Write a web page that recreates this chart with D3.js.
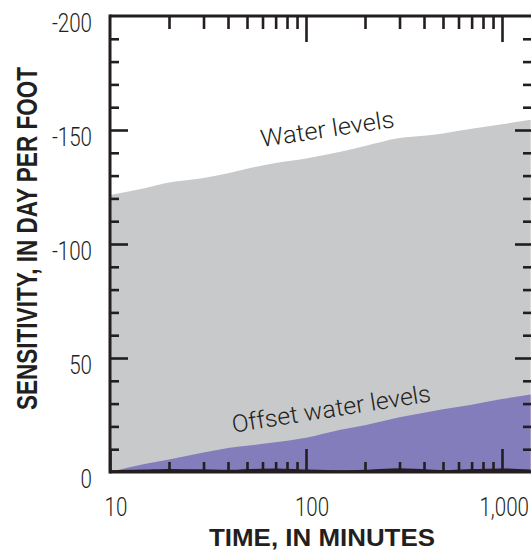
<!DOCTYPE html>
<html>
<head>
<meta charset="utf-8">
<script src="https://cdn.jsdelivr.net/npm/d3@7"></script>
<style>
  html, body { margin: 0; padding: 0; background: #fff; }
  svg { display: block; }
  text { fill: #231f20; }
  .light { font-family: Roboto, "Liberation Sans", sans-serif; font-weight: 300; }
  .heavy { font-family: "Liberation Sans", Arial, sans-serif; font-weight: bold; }
</style>
</head>
<body>
<svg id="chart" width="531" height="552"></svg>
<script>
// Elapsed time, in minutes
const times = [10, 15, 20, 30, 40, 50, 70, 100, 150, 200, 300, 400, 500, 700, 1000, 1400];
// Sensitivity of simulated water levels, in day per foot
const waterLevels = [-121.5, -124.5, -127, -129, -131, -133, -135.5, -137.5, -140.5, -143, -146.5, -147.5, -148.5, -150.5, -152.5, -154.5];
// Sensitivity of offset water levels, in day per foot
const offsetLevels = [0, -3.5, -5.5, -8.5, -10.5, -11.5, -13, -15, -18.5, -20.5, -24, -26, -27.5, -29.5, -32, -34];
// Remaining small sensitivity hugging zero
const baseLevels = [0, -0.3, -0.6, -0.4, -0.2, -0.5, -0.8, -0.3, 0, -0.2, -0.9, -0.4, -0.1, -0.5, -0.8, -0.3];

const xTickValues = [10, 100, 1000];
const xTickLabels = ["10", "100", "1,000"];
const yTickValues = [-200, -150, -100, -50, 0];
const yTickLabels = ["-200", "-150", "-100", "50", "0"];

const ink = "#231f20";
const svg = d3.select("#chart");

const pLeft = 110, pTop = 16, pRight = 532, pBottom = 472;
const x = d3.scaleLog().domain([10, 1000]).range([pLeft, 502]);
const y = d3.scaleLinear().domain([0, -200]).range([pBottom, pTop]);

const rows = times.map((t, i) => ({ t, w: waterLevels[i], o: offsetLevels[i], b: baseLevels[i] }));

svg.append("defs").append("clipPath").attr("id", "plot")
  .append("rect").attr("x", pLeft).attr("y", pTop).attr("width", pRight - pLeft).attr("height", pBottom - pTop);

const g = svg.append("g").attr("clip-path", "url(#plot)");

const area = key => d3.area().x(d => x(d.t)).y0(y(0)).y1(d => y(d[key])).curve(d3.curveMonotoneX);

g.append("path").datum(rows).attr("d", area("w")).attr("fill", "#c8c9cb");
g.append("path").datum(rows).attr("d", area("o")).attr("fill", "#837dbc");
g.append("path").datum(rows)
  .attr("d", d3.line().x(d => x(d.t)).y(d => y(d.b)).curve(d3.curveMonotoneX))
  .attr("fill", "none").attr("stroke", ink).attr("stroke-width", 3.5);

// Minor/major ticks along x (top and bottom) and y (left and right)
const xMinor = [];
[10, 100, 1000].forEach(dec => { for (let k = 2; k <= 9; k++) xMinor.push(dec * k); });
const xMinorIn = xMinor.filter(v => x(v) < pRight - 3);
const yMinor = d3.range(-190, 0, 10).filter(v => v % 50 !== 0);

function place(axis, tx, ty) {
  const a = svg.append("g").attr("transform", `translate(${tx},${ty})`).call(axis);
  a.select(".domain").remove();
  a.selectAll(".tick line").attr("stroke", ink).attr("stroke-width", 2.6);
  return a;
}
place(d3.axisBottom(x).tickValues(xMinorIn).tickSize(-10).tickFormat(""), 0, pBottom);
place(d3.axisBottom(x).tickValues(xTickValues).tickSize(-23).tickFormat(""), 0, pBottom);
place(d3.axisTop(x).tickValues(xMinorIn).tickSize(-13).tickFormat(""), 0, pTop);
place(d3.axisTop(x).tickValues(xTickValues.filter(v => v > 10)).tickSize(-26).tickFormat(""), 0, pTop);
place(d3.axisLeft(y).tickValues(yMinor).tickSize(-9).tickFormat(""), pLeft, 0);
place(d3.axisLeft(y).tickValues([-150, -100, -50]).tickSize(-18).tickFormat(""), pLeft, 0);
place(d3.axisRight(y).tickValues(yMinor).tickSize(-9).tickFormat(""), pRight, 0);
place(d3.axisRight(y).tickValues([-150, -100, -50]).tickSize(-17).tickFormat(""), pRight, 0);

// Frame
const frame = svg.append("g").attr("stroke", ink).attr("fill", "none");
frame.append("line").attr("x1", pLeft).attr("x2", pRight).attr("y1", pTop).attr("y2", pTop).attr("stroke-width", 3);
frame.append("line").attr("x1", pLeft).attr("x2", pLeft).attr("y1", pTop - 1.5).attr("y2", pBottom + 1.5).attr("stroke-width", 3);
frame.append("line").attr("x1", pLeft).attr("x2", pRight).attr("y1", pBottom).attr("y2", pBottom).attr("stroke-width", 3);
frame.append("line").attr("x1", pRight + 1).attr("x2", pRight + 1).attr("y1", pTop).attr("y2", pBottom).attr("stroke-width", 3);

// Narrow set type: squeeze each text horizontally
function squeeze(sel, factor) {
  sel.each(function () {
    const w = this.getComputedTextLength();
    d3.select(this).attr("textLength", w * factor).attr("lengthAdjust", "spacingAndGlyphs");
  });
}
function fitTo(sel, width) {
  sel.attr("textLength", width).attr("lengthAdjust", "spacingAndGlyphs");
}

// Tick labels
const xl = svg.append("g").selectAll("text").data(xTickValues).join("text")
  .attr("class", "light")
  .attr("x", d => x(d) + 6).attr("y", 516)
  .attr("text-anchor", "middle").attr("font-size", 26)
  .text((d, i) => xTickLabels[i]);
squeeze(xl, 0.79);
xl.filter(d => d === 1000).attr("x", 529).attr("text-anchor", "end");

const yl = svg.append("g").selectAll("text").data(yTickValues).join("text")
  .attr("class", "light")
  .attr("x", 92).attr("y", d => y(d) + 15.5)
  .attr("text-anchor", "end").attr("font-size", 26)
  .text((d, i) => yTickLabels[i]);
squeeze(yl, 0.79);

// Axis titles
fitTo(svg.append("text").attr("class", "heavy").attr("x", 322).attr("y", 546).attr("text-anchor", "middle")
  .attr("font-size", 24).text("TIME, IN MINUTES"), 226);
fitTo(svg.append("text").attr("class", "heavy").attr("transform", "translate(37,238.5) rotate(-90)").attr("text-anchor", "middle")
  .attr("font-size", 30).text("SENSITIVITY, IN DAY PER FOOT"), 343);

// Series labels
fitTo(svg.append("text").attr("class", "light").attr("transform", "translate(328.5,137) rotate(-8.5)").attr("text-anchor", "middle")
  .attr("font-size", 24).text("Water levels"), 135);
fitTo(svg.append("text").attr("class", "light").attr("transform", "translate(332.5,417) rotate(-9)").attr("text-anchor", "middle")
  .attr("font-size", 24).text("Offset water levels"), 201);
</script>
</body>
</html>
